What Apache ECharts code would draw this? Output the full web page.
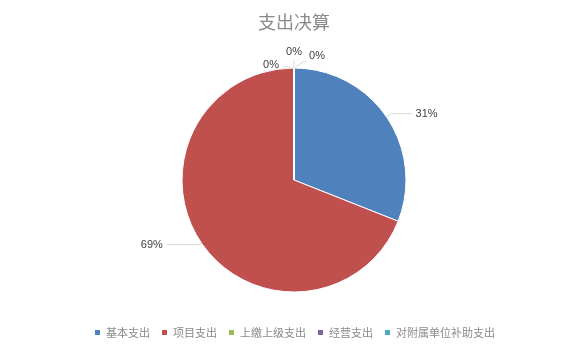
<!DOCTYPE html>
<html><head><meta charset="utf-8">
<script src="https://cdn.jsdelivr.net/npm/echarts@6/dist/echarts.min.js"></script>
<style>html,body{margin:0;padding:0;background:#fff}#c{width:588px;height:355px}</style>
</head><body><div id="c"></div>
<script>
const categories = ['基本支出','项目支出','上缴上级支出','经营支出','对附属单位补助支出'];
const values = [31, 69, 0, 0, 0];
const colors = ['#4F81BD','#C0504D','#9BBB59','#8064A2','#4BACC6'];
const CX = 294, CY = 180, R = 112;
// offsets of the zero-value labels from the top of the pie
const zeroLabelOffsets = {2: [-23, -3], 3: [0, -16], 4: [23, -12]};
const chart = echarts.init(document.getElementById('c'));
chart.setOption({
  animation:false,
  color: colors,
  title:{text:'支出决算',left:'center',top:8,textStyle:{fontFamily:'Noto Sans CJK SC',fontSize:18,fontWeight:'normal',color:'#8a8a8a'}},
  legend:{bottom:12,left:'center',itemWidth:7,itemHeight:7,itemGap:10,icon:'rect',
    textStyle:{fontFamily:'Noto Sans CJK SC',fontSize:11,color:'#8a8a8a'},data:categories},
  series:[{type:'pie',center:[CX,CY],radius:[0,R],startAngle:90,clockwise:true,
    percentPrecision:0,minShowLabelAngle:0,stillShowZeroSum:true,avoidLabelOverlap:true,
    itemStyle:{borderColor:'#fff',borderWidth:1},
    label:{formatter:'{d}%',fontFamily:'Liberation Sans',fontSize:11,color:'#404040',distanceToLabelLine:4},
    labelLine:{length:6,length2:20,lineStyle:{color:'#d9d9d9'}},
    labelLayout:function(p){
      const o = zeroLabelOffsets[p.dataIndex];
      if (!o) return {};
      const tx = CX + o[0], ty = CY - R + o[1];
      return {x:tx, y:ty, align:'center', verticalAlign:'middle',
        labelLinePoints:[[CX, CY - R],[CX + o[0]*0.4, CY - R + o[1]*0.5],[CX + o[0]*0.5, CY - R + o[1]*0.55]]};
    },
    data:categories.map((n,i)=>({name:n,value:values[i],
      labelLine: i===1 ? {length:3,length2:32} : undefined}))}]
});
</script></body></html>
